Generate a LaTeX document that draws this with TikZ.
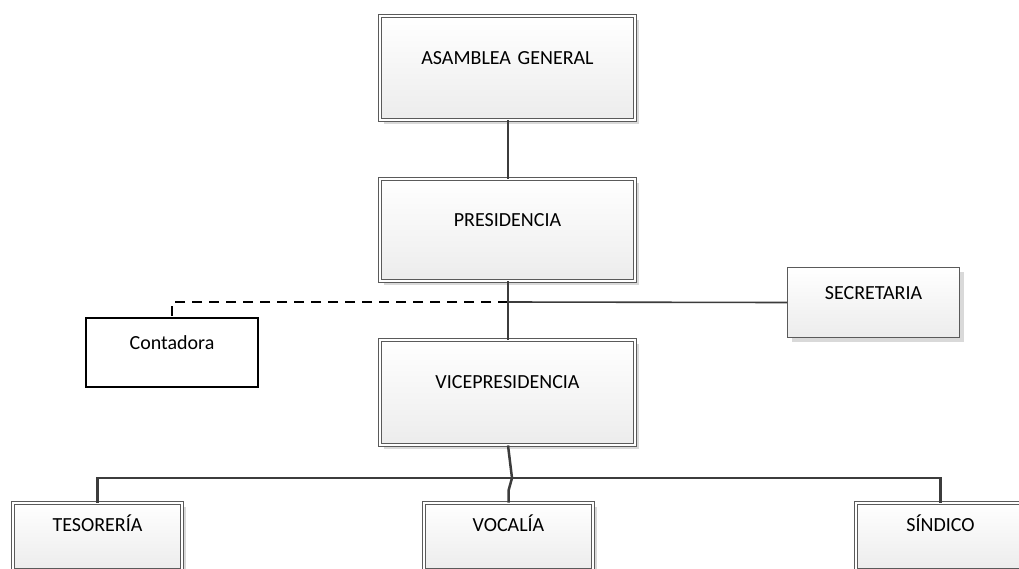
\documentclass[tikz,border=0pt]{standalone}
\usepackage{fontspec}
\setmainfont{Carlito}
\usetikzlibrary{shadows,calc}
\definecolor{boxline}{HTML}{5A5A5A}
\definecolor{boxfill}{HTML}{ECECEC}
\definecolor{shadowgray}{HTML}{D9D9D9}
\definecolor{linkgray}{HTML}{3C3C3C}
\begin{document}
\begin{tikzpicture}[x=1pt,y=-1pt,
  lbl/.style={font=\fontsize{20}{22}\selectfont, inner sep=0pt, align=center},
  shade/.style={shading=axis, top color=white, bottom color=boxfill,
    drop shadow={shadow xshift=4pt, shadow yshift=-4pt, fill=shadowgray, opacity=1}},
  dbox/.style={lbl, shade, draw=boxline, line width=0.8pt, double=white, double distance=2.4pt},
  sbox/.style={lbl, shade, draw=boxline, line width=1pt},
  plainbox/.style={lbl, draw=black, line width=1.6pt, fill=white},
  conn/.style={draw=linkgray, line width=2.5pt},
  thin/.style={draw=linkgray, line width=1.6pt},
  dashlink/.style={draw=black, line width=1.8pt, dash pattern=on 10pt off 7pt}]
  \useasboundingbox (0,0) rectangle (1019,568);
  \fill[white] (0,0) rectangle (1019,568);
  \clip (0,0) rectangle (1019,568);

  % main chain
  \node[dbox, text width=255pt, text height=48pt, text depth=56pt] (asm) at (507.5,68) {ASAMBLEA GENERAL};
  \node[dbox, text width=255pt, text height=47pt, text depth=55pt] (pres) at (507.5,230) {PRESIDENCIA};
  \node[dbox, text width=255pt, text height=48pt, text depth=57pt] (vice) at (507.5,392.5) {VICEPRESIDENCIA};

  % staff positions
  \node[sbox, text width=172pt, text height=31.5pt, text depth=38.5pt] (sec) at (873.5,302.5) {SECRETARIA};
  \node[plainbox, text width=172pt, text height=32pt, text depth=37.5pt] (cont) at (172,352.5) {Contadora};

  % bottom row
  \node[dbox, text width=169pt, text height=28pt, text depth=39pt] (tes) at (97.5,536.5) {TESORERÍA};
  \node[dbox, text width=169pt, text height=28pt, text depth=39pt] (voc) at (508.5,536.5) {VOCALÍA};
  \node[dbox, text width=169pt, text height=28pt, text depth=39pt] (sin) at (940.5,536.5) {SÍNDICO};

  \coordinate (j) at (508,302);
  \coordinate (bar) at (508,478);

  % connectors
  \draw[dashlink] (j) -| (cont.north);
  \draw[thin] (j) -- (sec.west);
  \draw[conn] (asm.south -| j) -- (pres.north -| j);
  \draw[conn] (pres.south -| j) -- (vice.north -| j);
  \draw[conn] (tes.north) |- (bar) -| (sin.north);
  \draw[conn, line join=round] (vice.south -| j) -- ($(bar)+(4,0)$) -- ($(voc.north)+(0,-12)$) -- (voc.north);
\end{tikzpicture}
\end{document}
